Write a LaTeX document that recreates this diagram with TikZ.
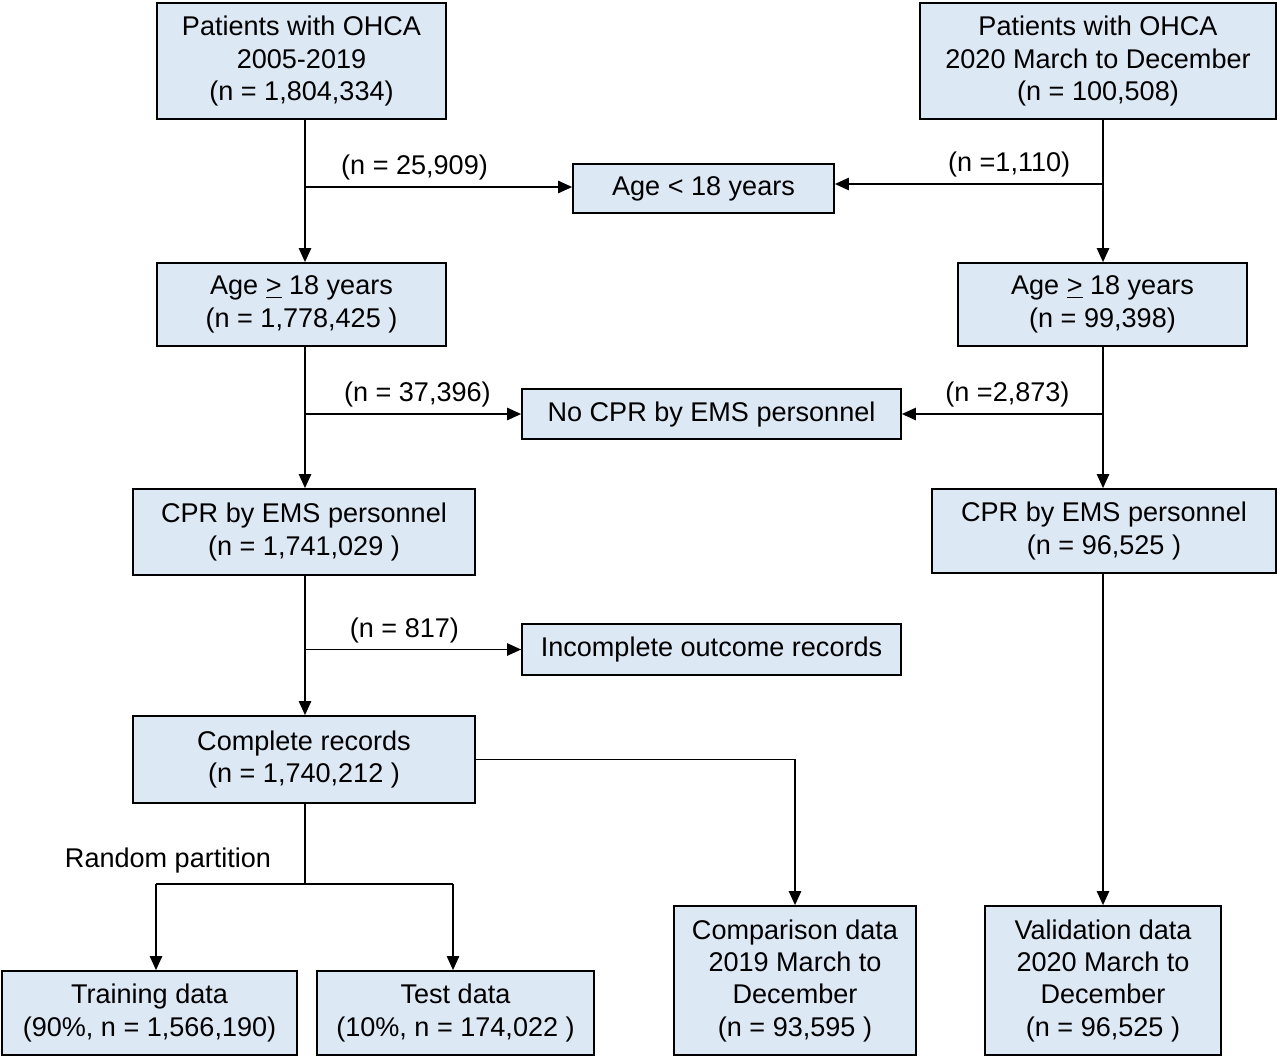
\documentclass[tikz,border=0pt]{standalone}
\usepackage{fontspec}
\setmainfont{Liberation Sans}
\usetikzlibrary{arrows.meta}
\definecolor{boxblue}{HTML}{DDE8F5}

\begin{document}
\begin{tikzpicture}[x=0.02cm, y=-0.02cm, line width=1pt,
        font=\fontsize{15.4}{18.4}\selectfont,
        box/.style={draw, fill=boxblue, align=center, inner sep=0pt},
        arr/.style={-{Triangle[length=8pt,width=7pt]}}]
    \useasboundingbox (0,0) rectangle (1280,1058);
    % boxes
    \node[box, minimum width=5.78cm, minimum height=2.32cm] (P1) at (301.5,61) {Patients with OHCA\\2005-2019\\(n = 1,804,334)};
    \node[box, minimum width=7.12cm, minimum height=2.32cm] (P2) at (1098,61) {Patients with OHCA\\2020 March to December\\(n = 100,508)};
    \node[box, minimum width=5.22cm, minimum height=0.98cm] (young) at (703.5,188.5) {Age < 18 years};
    \node[box, minimum width=5.78cm, minimum height=1.66cm] (A1) at (301.5,304.5) {Age \underline{>} 18 years\\(n = 1,778,425 )};
    \node[box, minimum width=5.78cm, minimum height=1.66cm] (A2) at (1102.5,304.5) {Age \underline{>} 18 years\\(n = 99,398)};
    \node[box, minimum width=7.58cm, minimum height=1cm] (nocpr) at (711.5,414) {No CPR by EMS personnel};
    \node[box, minimum width=6.84cm, minimum height=1.72cm] (C1) at (304,532) {CPR by EMS personnel\\(n = 1,741,029 )};
    \node[box, minimum width=6.88cm, minimum height=1.68cm] (C2) at (1104,531) {CPR by EMS personnel\\(n = 96,525 )};
    \node[box, minimum width=7.58cm, minimum height=1.02cm] (incomplete) at (711.5,649.5) {Incomplete outcome records};
    \node[box, minimum width=6.84cm, minimum height=1.74cm] (complete) at (304,759.5) {Complete records\\(n = 1,740,212 )};
    \node[box, minimum width=5.9cm, minimum height=1.68cm] (train) at (149.5,1013) {Training data\\(90\%, n = 1,566,190)};
    \node[box, minimum width=5.54cm, minimum height=1.68cm] (test) at (455.5,1013) {Test data\\(10\%, n = 174,022 )};
    \node[box, minimum width=4.84cm, minimum height=2.98cm] (comp) at (795,980.5) {Comparison data\\2019 March to\\December\\(n = 93,595 )};
    \node[box, minimum width=4.72cm, minimum height=2.98cm] (valid) at (1103,980.5) {Validation data\\2020 March to\\December\\(n = 96,525 )};

    % trunks
    \coordinate (lt) at (305,0);
    \coordinate (rt) at (1103,0);
    \draw[arr] (P1.south -| lt) -- (A1.north -| lt);
    \draw[arr] (A1.south -| lt) -- (C1.north -| lt);
    \draw[arr] (C1.south -| lt) -- (complete.north -| lt);
    \draw[arr] (P2.south -| rt) -- (A2.north -| rt);
    \draw[arr] (A2.south -| rt) -- (C2.north -| rt);
    \draw[arr] (C2.south -| rt) -- (valid.north -| rt);

    % exclusions
    \draw[arr] (0,187 -| lt) -- (0,187 -| young.west) node[above, pos=0.41] (n1) {(n = 25,909)};
    \draw[arr] (0,184 -| rt) -- (0,184 -| young.east) node[above, pos=0.35] (n2) {(n =1,110)};
    \draw[arr] (nocpr.west -| lt) -- (nocpr.west) node[above, pos=0.52] (n3) {(n = 37,396)};
    \draw[arr] (nocpr.east -| rt) -- (nocpr.east) node[above, pos=0.475] (n4) {(n =2,873)};
    \draw[arr] (incomplete.west -| lt) -- (incomplete.west) node[above, pos=0.46] (n5) {(n = 817)};

    % split
    \draw[arr] (complete.east) -| (comp.north);
    \coordinate (sl) at (156,884);
    \coordinate (sr) at (453,884);
    \draw (complete.south -| lt) -- (sl -| lt);
    \draw (sl) -- (sr);
    \draw[arr] (sl) -- (sl |- train.north);
    \draw[arr] (sr) -- (sr |- test.north);
    \node (rp) at (168,860) {Random partition};
\end{tikzpicture}
\end{document}
